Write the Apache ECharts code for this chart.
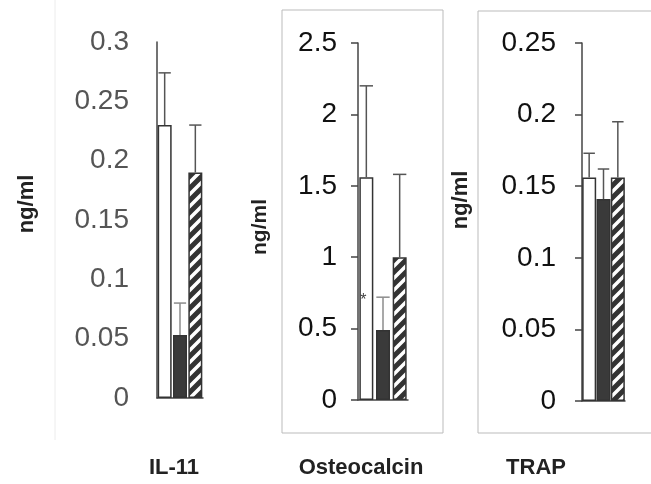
<!DOCTYPE html>
<html>
<head>
<meta charset="utf-8">
<script src="https://cdn.jsdelivr.net/npm/echarts@6/dist/echarts.min.js"></script>
<style>
  html, body { margin: 0; background: #fff; }
  #main { width: 651px; height: 484px; }
</style>
</head>
<body>
<div id="main"></div>
<script>
// three groups per panel: open bar, solid bar, hatched bar
const groups = ['open', 'solid', 'hatched']
const panelNames = ['IL-11', 'Osteocalcin', 'TRAP']

// means and error (SD), ng/ml
const il11Mean = [0.23, 0.053, 0.19]
const il11Err = [0.044, 0.027, 0.04]
const osteoMean = [1.56, 0.49, 1.0]
const osteoErr = [0.64, 0.23, 0.58]
const trapMean = [0.156, 0.141, 0.156]
const trapErr = [0.017, 0.021, 0.039]

// y axis ranges
const yMax = [0.3, 2.5, 0.25]
const yStep = [0.05, 0.5, 0.05]

const chart = echarts.init(document.getElementById('main'), null, {renderer: 'canvas'})

//斜线填充
function hatchPattern() {
  const c = document.createElement('canvas')
  c.width = 12
  c.height = 12
  const g = c.getContext('2d')
  g.fillStyle = '#333'
  g.fillRect(0, 0, 12, 12)
  g.strokeStyle = '#fff'
  g.lineWidth = 3.5
  g.beginPath()
  g.moveTo(-3, 15); g.lineTo(15, -3)
  g.moveTo(-9, 9); g.lineTo(9, -9)
  g.moveTo(3, 21); g.lineTo(21, 3)
  g.stroke()
  return c
}
const hatch = {image: hatchPattern(), repeat: 'repeat'}
const barStyles = [
  {color: '#fff', borderColor: '#333', borderWidth: 1.5},
  {color: '#3a3a3a', borderColor: '#333', borderWidth: 1.5},
  {color: hatch, borderColor: '#333', borderWidth: 1.5}
]

const grids = [
  {left: 157, top: 42, width: 46, height: 356},
  {left: 358, top: 43, width: 50, height: 357},
  {left: 582, top: 43, width: 43, height: 358}
]
const labelStyle = [
  {color: '#555', margin: 28, tick: false},
  {color: '#111', margin: 21, tick: true},
  {color: '#111', margin: 26, tick: true}
]
// whisker colours (solid bar whiskers are fainter in the first two panels)
const errColors = [
  ['#555', '#8c8c8c', '#555'],
  ['#555', '#8c8c8c', '#555'],
  ['#555', '#555', '#555']
]

function barSeries(i, mean) {
  return {
    type: 'bar',
    xAxisIndex: i,
    yAxisIndex: i,
    barWidth: 14,
    z: 2,
    data: mean.map((v, k) => ({value: v, itemStyle: barStyles[k]}))
  }
}

function errSeries(i, mean, err) {
  return {
    type: 'custom',
    xAxisIndex: i,
    yAxisIndex: i,
    z: 3,
    data: mean.map((m, k) => [k, m, m + err[k]]),
    renderItem(params, api) {
      const base = api.coord([api.value(0), api.value(1)])
      const top = api.coord([api.value(0), api.value(2)])
      const hw = api.size([1, 0])[0] * 0.4
      const st = {stroke: errColors[i][params.dataIndex], lineWidth: 1.5}
      return {
        type: 'group',
        children: [
          {type: 'line', shape: {x1: base[0], y1: base[1], x2: top[0], y2: top[1]}, style: st},
          {type: 'line', shape: {x1: top[0] - hw, y1: top[1], x2: top[0] + hw, y2: top[1]}, style: st}
        ]
      }
    }
  }
}

const means = [il11Mean, osteoMean, trapMean]
const errs = [il11Err, osteoErr, trapErr]

const series = []
means.forEach((m, i) => {
  series.push(barSeries(i, m))
  series.push(errSeries(i, m, errs[i]))
})
// significance mark on osteocalcin
series[2].markPoint = {
  symbol: 'circle',
  symbolSize: 0,
  label: {show: true, formatter: '*', color: '#444', fontSize: 16, position: 'inside', offset: [-3, 3]},
  data: [{coord: [0, 0.72]}]
}

const font = 'Liberation Sans, Arial, sans-serif'

chart.setOption({
  backgroundColor: '#fff',
  animation: false,
  grid: grids,
  xAxis: grids.map((g, i) => ({
    type: 'category',
    gridIndex: i,
    data: groups,
    axisTick: {show: false},
    axisLabel: {show: false},
    axisLine: {lineStyle: {color: '#444', width: 1.5}}
  })),
  yAxis: grids.map((g, i) => ({
    type: 'value',
    gridIndex: i,
    min: 0,
    max: yMax[i],
    interval: yStep[i],
    splitLine: {show: false},
    axisLine: {show: true, lineStyle: {color: '#444', width: 1.5}},
    axisTick: {show: labelStyle[i].tick, length: 7, lineStyle: {color: '#444', width: 1.5}},
    axisLabel: {color: labelStyle[i].color, fontSize: 28, fontFamily: font, margin: labelStyle[i].margin}
  })),
  series: series,
  graphic: [
    {type: 'line', shape: {x1: 55, y1: 0, x2: 55, y2: 440}, style: {stroke: '#ececec', lineWidth: 1}, silent: true},
    {type: 'rect', shape: {x: 282, y: 10, width: 161, height: 423}, style: {fill: null, stroke: '#bbb', lineWidth: 1}, silent: true},
    {type: 'rect', shape: {x: 478, y: 11, width: 200, height: 422}, style: {fill: null, stroke: '#bbb', lineWidth: 1}, silent: true},
    {type: 'text', x: 27, y: 204, rotation: Math.PI / 2,
      style: {text: 'ng/ml', font: 'bold 22px ' + font, fill: '#222', align: 'center', verticalAlign: 'middle'}},
    {type: 'text', x: 260, y: 227, rotation: Math.PI / 2,
      style: {text: 'ng/ml', font: 'bold 21px ' + font, fill: '#222', align: 'center', verticalAlign: 'middle'}},
    {type: 'text', x: 461, y: 200, rotation: Math.PI / 2,
      style: {text: 'ng/ml', font: 'bold 22px ' + font, fill: '#222', align: 'center', verticalAlign: 'middle'}},
    {type: 'text', x: 174, y: 468,
      style: {text: panelNames[0], font: 'bold 22px ' + font, fill: '#222', align: 'center', verticalAlign: 'middle'}},
    {type: 'text', x: 361, y: 468,
      style: {text: panelNames[1], font: 'bold 22px ' + font, fill: '#222', align: 'center', verticalAlign: 'middle'}},
    {type: 'text', x: 536, y: 468,
      style: {text: panelNames[2], font: 'bold 22px ' + font, fill: '#222', align: 'center', verticalAlign: 'middle'}}
  ]
})
</script>
</body>
</html>
